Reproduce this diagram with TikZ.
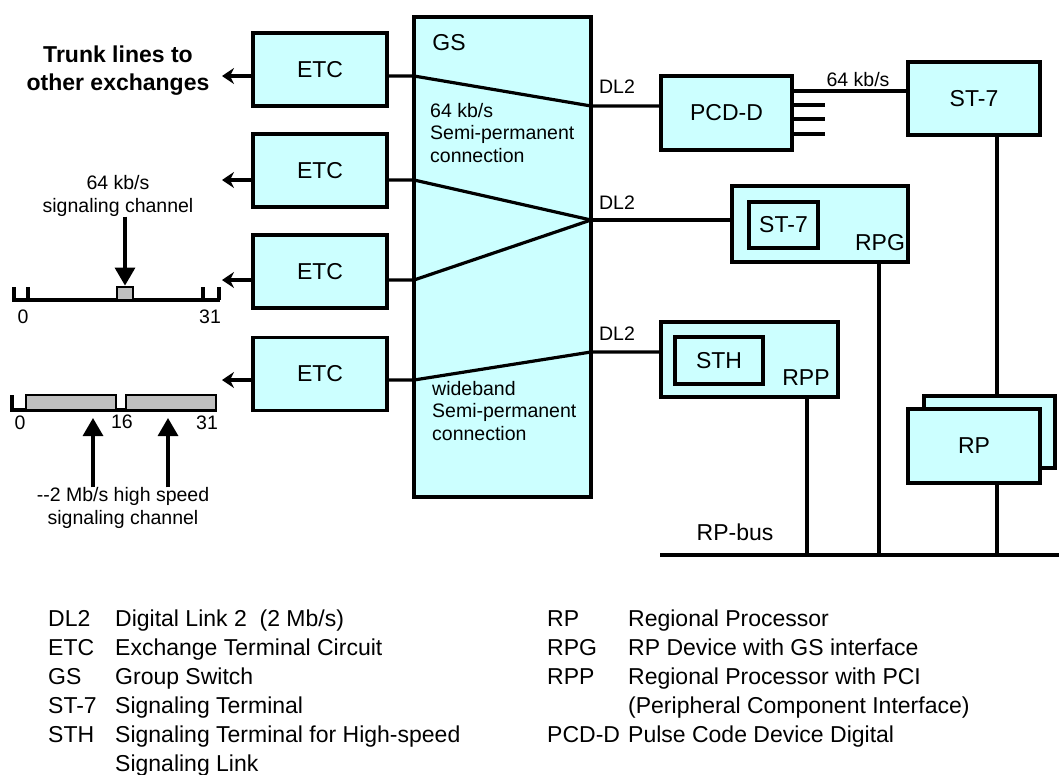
\documentclass[tikz,border=0pt]{standalone}
\usepackage{fontspec}
\setmainfont{Liberation Sans}
\usepackage{xcolor}
\usetikzlibrary{arrows.meta}

\definecolor{boxcyan}{HTML}{CCFFFF}
\definecolor{slotgray}{HTML}{C0C0C0}

\tikzset{
    unit/.style={draw, line width=3.2pt, fill=boxcyan, inner sep=0pt, font=\fontsize{23}{27}\selectfont},
    slot/.style={draw, line width=2.8pt, fill=slotgray, inner sep=0pt},
    wire/.style={line width=3.2pt},
    small/.style={inner sep=0pt, font=\fontsize{19.5}{22.5}\selectfont},
    legend/.style={inner sep=0pt, anchor=base west, font=\fontsize{23}{29}\selectfont},
}

\begin{document}
\begin{tikzpicture}[x=1pt, y=-1pt]
    \useasboundingbox (0,0) rectangle (1059,774);
    
    % Exchange terminal circuits
    \node[unit, minimum width=134pt, minimum height=73pt] (etcA) at (320,69.5) {ETC};
    \node[unit, minimum width=134pt, minimum height=73pt] (etcB) at (320,170.5) {ETC};
    \node[unit, minimum width=134pt, minimum height=73pt] (etcC) at (320,271.5) {ETC};
    \node[unit, minimum width=134pt, minimum height=73pt] (etcD) at (320,374) {ETC};
    
    % Group switch
    \node[unit, minimum width=177pt, minimum height=480pt] (gs) at (502.5,257) {};
    \node[inner sep=0pt, font=\fontsize{23}{27}\selectfont] (gsLabel) at (449,43) {GS};
    \node[small, anchor=north west, align=left] (semiA) at (430,103) {64 kb/s\\Semi-permanent\\connection};
    \node[small, anchor=north west, align=left] (semiB) at (432,381) {wideband\\Semi-permanent\\connection};
    
    % Devices on the right
    \node[unit, minimum width=131pt, minimum height=74pt] (pcd) at (726.5,113) {PCD-D};
    \node[unit, minimum width=132pt, minimum height=73pt] (st7) at (974,98.5) {ST-7};
    
    \node[unit, minimum width=176pt, minimum height=76pt] (rpg) at (820,224) {};
    \node[unit, minimum width=69pt, minimum height=46pt] (st7b) at (783.5,225) {ST-7};
    \node[inner sep=0pt, font=\fontsize{23}{27}\selectfont] (rpgLabel) at (880,243) {RPG};
    
    \node[unit, minimum width=177pt, minimum height=75pt] (rpp) at (749.5,359.5) {};
    \node[unit, minimum width=88pt, minimum height=47pt] (sth) at (719,360.5) {STH};
    \node[inner sep=0pt, font=\fontsize{23}{27}\selectfont] (rppLabel) at (806,378) {RPP};
    
    \node[unit, minimum width=131pt, minimum height=72pt] (rpBack) at (989.5,432) {};
    \node[unit, minimum width=132pt, minimum height=74pt] (rp) at (974,446) {RP};
    
    % Paths through the switch
    \coordinate (inA) at (414,76);
    \coordinate (inB) at (414,180);
    \coordinate (inC) at (414,280);
    \coordinate (inD) at (414,380);
    \coordinate (swA) at (591,106);
    \coordinate (swB) at (591,220);
    \coordinate (swD) at (591,352);
    
    \draw[wire] (etcA.east |- inA) -- (inA) -- (swA) -- (pcd.west |- swA);
    \draw[wire] (etcB.east |- inB) -- (inB) -- (swB);
    \draw[wire] (etcC.east |- inC) -- (inC) -- (swB);
    \draw[wire] (swB) -- (rpg.west |- swB);
    \draw[wire] (etcD.east |- inD) -- (inD) -- (swD) -- (rpp.west |- swD);
    
    \node[small] (dlA) at (617,87) {DL2};
    \node[small] (dlB) at (617,203) {DL2};
    \node[small] (dlC) at (617,334) {DL2};
    
    % Trunk lines
    \coordinate (trA) at (222,76);
    \coordinate (trB) at (222,180);
    \coordinate (trC) at (222,280);
    \coordinate (trD) at (222,380);
    \draw[wire, -{Stealth[length=12pt,width=16pt]}] (etcA.west |- trA) -- (trA);
    \draw[wire, -{Stealth[length=12pt,width=16pt]}] (etcB.west |- trB) -- (trB);
    \draw[wire, -{Stealth[length=12pt,width=16pt]}] (etcC.west |- trC) -- (trC);
    \draw[wire, -{Stealth[length=12pt,width=16pt]}] (etcD.west |- trD) -- (trD);
    \node[inner sep=0pt, align=center, font=\fontsize{23}{28}\bfseries] (trunk) at (118,71) {Trunk lines to\\other exchanges};
    
    % PCD-D outputs
    \coordinate (tapA) at (800,91);
    \draw[wire] (pcd.east |- tapA) -- (st7.west |- tapA);
    \draw[wire] (pcd.east |- 0,105) -- ++(31,0);
    \draw[wire] (pcd.east |- 0,119) -- ++(31,0);
    \draw[wire] (pcd.east |- 0,134) -- ++(31,0);
    \node[small] (kbTop) at (858,80) {64 kb/s};
    
    % RP-bus
    \coordinate (busL) at (660,555);
    \coordinate (busR) at (1059,555);
    \coordinate (colP) at (807,555);
    \coordinate (colG) at (879,555);
    \coordinate (colRP) at (997,555);
    \draw[wire] (busL) -- (busR);
    \draw[wire] (rpp.south -| colP) -- (colP);
    \draw[wire] (rpg.south -| colG) -- (colG);
    \draw[wire] (st7.south -| colRP) -- (rpBack.north -| colRP);
    \draw[wire] (rp.south -| colRP) -- (colRP);
    \node[inner sep=0pt, font=\fontsize{23}{28}\selectfont] (busLabel) at (735,532) {RP-bus};
    
    % 64 kb/s time slots
    \draw[wire] (14,287) -- (14,300) -- (220,300);
    \draw[wire] (28,287) -- (28,300);
    \draw[wire] (203,287) -- (203,300);
    \draw[wire] (219,287) -- (219,300);
    \node[slot, minimum width=16pt, minimum height=13pt] (slotA) at (125,293.5) {};
    \node[small, align=center] (sigA) at (118,196) {64 kb/s\\signaling channel};
    \draw[wire, -{Triangle[length=18pt,width=20pt]}] (sigA.south -| slotA) -- (slotA.north);
    \node[small] (zeroA) at (23,317) {0};
    \node[small] (lastA) at (210,317) {31};
    
    % 2 Mb/s time slots
    \draw[wire] (12,395) -- (12,410) -- (217,410);
    \node[slot, minimum width=90pt, minimum height=15pt] (slotB) at (71,402.5) {};
    \node[slot, minimum width=90pt, minimum height=15pt] (slotC) at (171,402.5) {};
    \node[small] (zeroB) at (20,423) {0};
    \node[small] (midB) at (122,422) {16};
    \node[small] (lastB) at (207,423) {31};
    \node[small, align=center] (sigB) at (123,508) {-{}-2 Mb/s high speed\\signaling channel};
    \coordinate (upA) at (93,418);
    \coordinate (upB) at (168,418);
    \draw[wire, -{Triangle[length=18pt,width=20pt]}] (sigB.north -| upA) -- (upA);
    \draw[wire, -{Triangle[length=18pt,width=20pt]}] (sigB.north -| upB) -- (upB);
    
    % Legend
    \node[legend] (kDL) at (48,626) {DL2};
    \node[legend] (tDL) at (115,626) {Digital Link 2~ (2 Mb/s)};
    \node[legend] (kETC) at (48,655) {ETC};
    \node[legend] (tETC) at (115,655) {Exchange Terminal Circuit};
    \node[legend] (kGS) at (48,684) {GS};
    \node[legend] (tGS) at (115,684) {Group Switch};
    \node[legend] (kST) at (48,713) {ST-7};
    \node[legend] (tST) at (115,713) {Signaling Terminal};
    \node[legend] (kSTH) at (48,742) {STH};
    \node[legend] (tSTH) at (115,742) {Signaling Terminal for High-speed};
    \node[legend] (tSTHb) at (115,771) {Signaling Link};
    
    \node[legend] (kRP) at (547,626) {RP};
    \node[legend] (tRP) at (628,626) {Regional Processor};
    \node[legend] (kRPG) at (547,655) {RPG};
    \node[legend] (tRPG) at (628,655) {RP Device with GS interface};
    \node[legend] (kRPP) at (547,684) {RPP};
    \node[legend] (tRPP) at (628,684) {Regional Processor with PCI};
    \node[legend] (tRPPb) at (628,713) {(Peripheral Component Interface)};
    \node[legend] (kPCD) at (547,742) {PCD-D};
    \node[legend] (tPCD) at (628,742) {Pulse Code Device Digital};
    
\end{tikzpicture}
\end{document}
